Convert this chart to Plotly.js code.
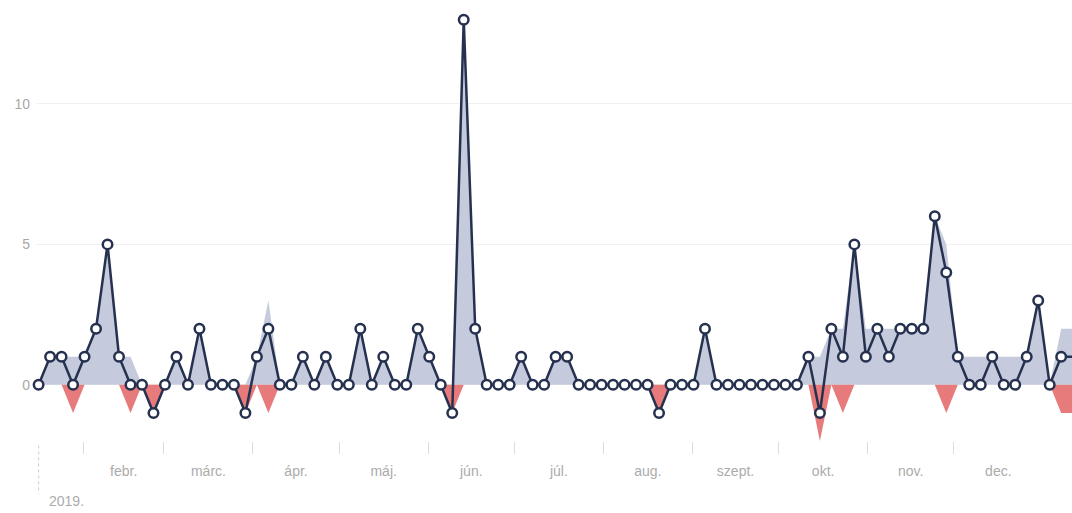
<!DOCTYPE html>
<html>
<head>
<meta charset="utf-8">
<script src="https://cdn.plot.ly/plotly-3.0.1.min.js"></script>
<style>html,body{margin:0;padding:0;background:#fff;}#chart{width:1072px;height:513px;}</style>
</head>
<body>
<div id="chart"></div>
<script>
// First sample date and sampling step (every 4 days)
const startDate = '2019-01-16T09:00:00Z';
const stepDays = 4;

// Net value per sample (line with markers)
const netValues = [
  0,1,1,0,1,2,5,1,0,0,-1,
  0,1,0,2,0,0,0,-1,1,2,
  0,0,1,0,1,0,0,2,0,1,
  0,0,2,1,0,-1,13,2,0,0,
  0,1,0,0,1,1,0,0,0,0,
  0,0,0,-1,0,0,0,2,0,0,
  0,0,0,0,0,0,1,-1,2,1,
  5,1,2,1,2,2,2,6,4,1,
  0,0,1,0,0,1,3,0,1,1
];
// Positive (gain) area
const gainValues = [
  0,1,1,1,1,2,5,1,1,0,0,
  0,1,0,2,0,0,0,0,1,3,
  0,0,1,0,1,0,0,2,0,1,
  0,0,2,1,0,0,13,2,0,0,
  0,1,0,0,1,1,0,0,0,0,
  0,0,0,0,0,0,0,2,0,0,
  0,0,0,0,0,0,1,1,2,2,
  5,2,2,2,2,2,2,6,5,1,
  1,1,1,1,1,1,3,0,2,2
];
// Negative (loss) area
const lossValues = [
  0,0,0,-1,0,0,0,0,-1,0,-1,
  0,0,0,0,0,0,0,-1,0,-1,
  0,0,0,0,0,0,0,0,0,0,
  0,0,0,0,0,-1,0,0,0,0,
  0,0,0,0,0,0,0,0,0,0,
  0,0,0,-1,0,0,0,0,0,0,
  0,0,0,0,0,0,0,-2,0,-1,
  0,0,0,0,0,0,0,0,-1,0,
  0,0,0,0,0,0,0,0,-1,-1
];

// Month axis
const monthStarts = ['2019-02-01','2019-03-01','2019-04-01','2019-05-01','2019-06-01','2019-07-01',
                     '2019-08-01','2019-09-01','2019-10-01','2019-11-01','2019-12-01'];
const monthEnd = '2020-01-01';
const monthLabels = ['febr.','márc.','ápr.','máj.','jún.','júl.','aug.','szept.','okt.','nov.','dec.'];
const yearLabel = '2019.';
const yTicks = [0,5,10];

function iso(ms){ return new Date(ms).toISOString().slice(0,19).replace('T',' '); }
const t0 = Date.parse(startDate);
const dates = netValues.map((_,i)=>iso(t0 + i*stepDays*86400000));
const bounds = monthStarts.concat([monthEnd]).map(d=>Date.parse(d+'T00:00:00Z'));
const monthMids = monthLabels.map((_,i)=>iso((bounds[i]+bounds[i+1])/2));

const navy = '#25314f';

const traces = [
  {x: dates, y: gainValues, type:'scatter', mode:'lines', fill:'tozeroy',
   fillcolor:'#c5cbdc', line:{width:0}, hoverinfo:'skip', showlegend:false},
  {x: dates, y: lossValues, type:'scatter', mode:'lines', fill:'tozeroy',
   fillcolor:'rgba(228,104,104,0.88)', line:{width:0}, hoverinfo:'skip', showlegend:false},
  {x: dates, y: netValues, type:'scatter', mode:'lines+markers', cliponaxis:false,
   line:{color:navy, width:2.5},
   marker:{size:9.5, color:'#ffffff', line:{color:navy, width:2.5}},
   showlegend:false}
];

const layout = {
  width:1072, height:513,
  margin:{l:37, r:0, t:0, b:72},
  paper_bgcolor:'#ffffff', plot_bgcolor:'#ffffff',
  font:{family:'"Liberation Sans", Arial, sans-serif', size:14, color:'#ababab'},
  xaxis:{
    type:'date',
    range:['2019-01-15 19:40','2020-01-11 03:20'],
    tickmode:'array', tickvals: monthMids, ticktext: monthLabels,
    ticks:'', showgrid:false, showline:false, zeroline:false,
    ticklabelstandoff: 20,
    tickfont:{size:14, color:'#ababab'},
    minor:{tickmode:'array', tickvals: monthStarts, ticks:'outside', ticklen:12,
           tickcolor:'#dcdcdc', tickwidth:1, showgrid:false}
  },
  yaxis:{
    range:[-2, 13.7],
    tickmode:'array', tickvals: yTicks,
    showgrid:true, gridcolor:'#f0f0f0', gridwidth:1,
    zeroline:false, showline:false, ticks:'',
    ticklabelstandoff: 6,
    tickfont:{size:14, color:'#a8a8a8'}
  },
  shapes:[
    {type:'line', xref:'x', yref:'paper', x0:dates[0], x1:dates[0], y0:-0.01, y1:-0.12,
     line:{color:'#cccccc', width:1, dash:'dot'}}
  ],
  annotations:[
    {text: yearLabel, xref:'x', yref:'paper', x: dates[0], y:-0.136, xanchor:'left', yanchor:'middle',
     xshift:8, showarrow:false, font:{size:14, color:'#ababab'}}
  ]
};

Plotly.newPlot('chart', traces, layout, {staticPlot:true, displayModeBar:false});
</script>
</body>
</html>
